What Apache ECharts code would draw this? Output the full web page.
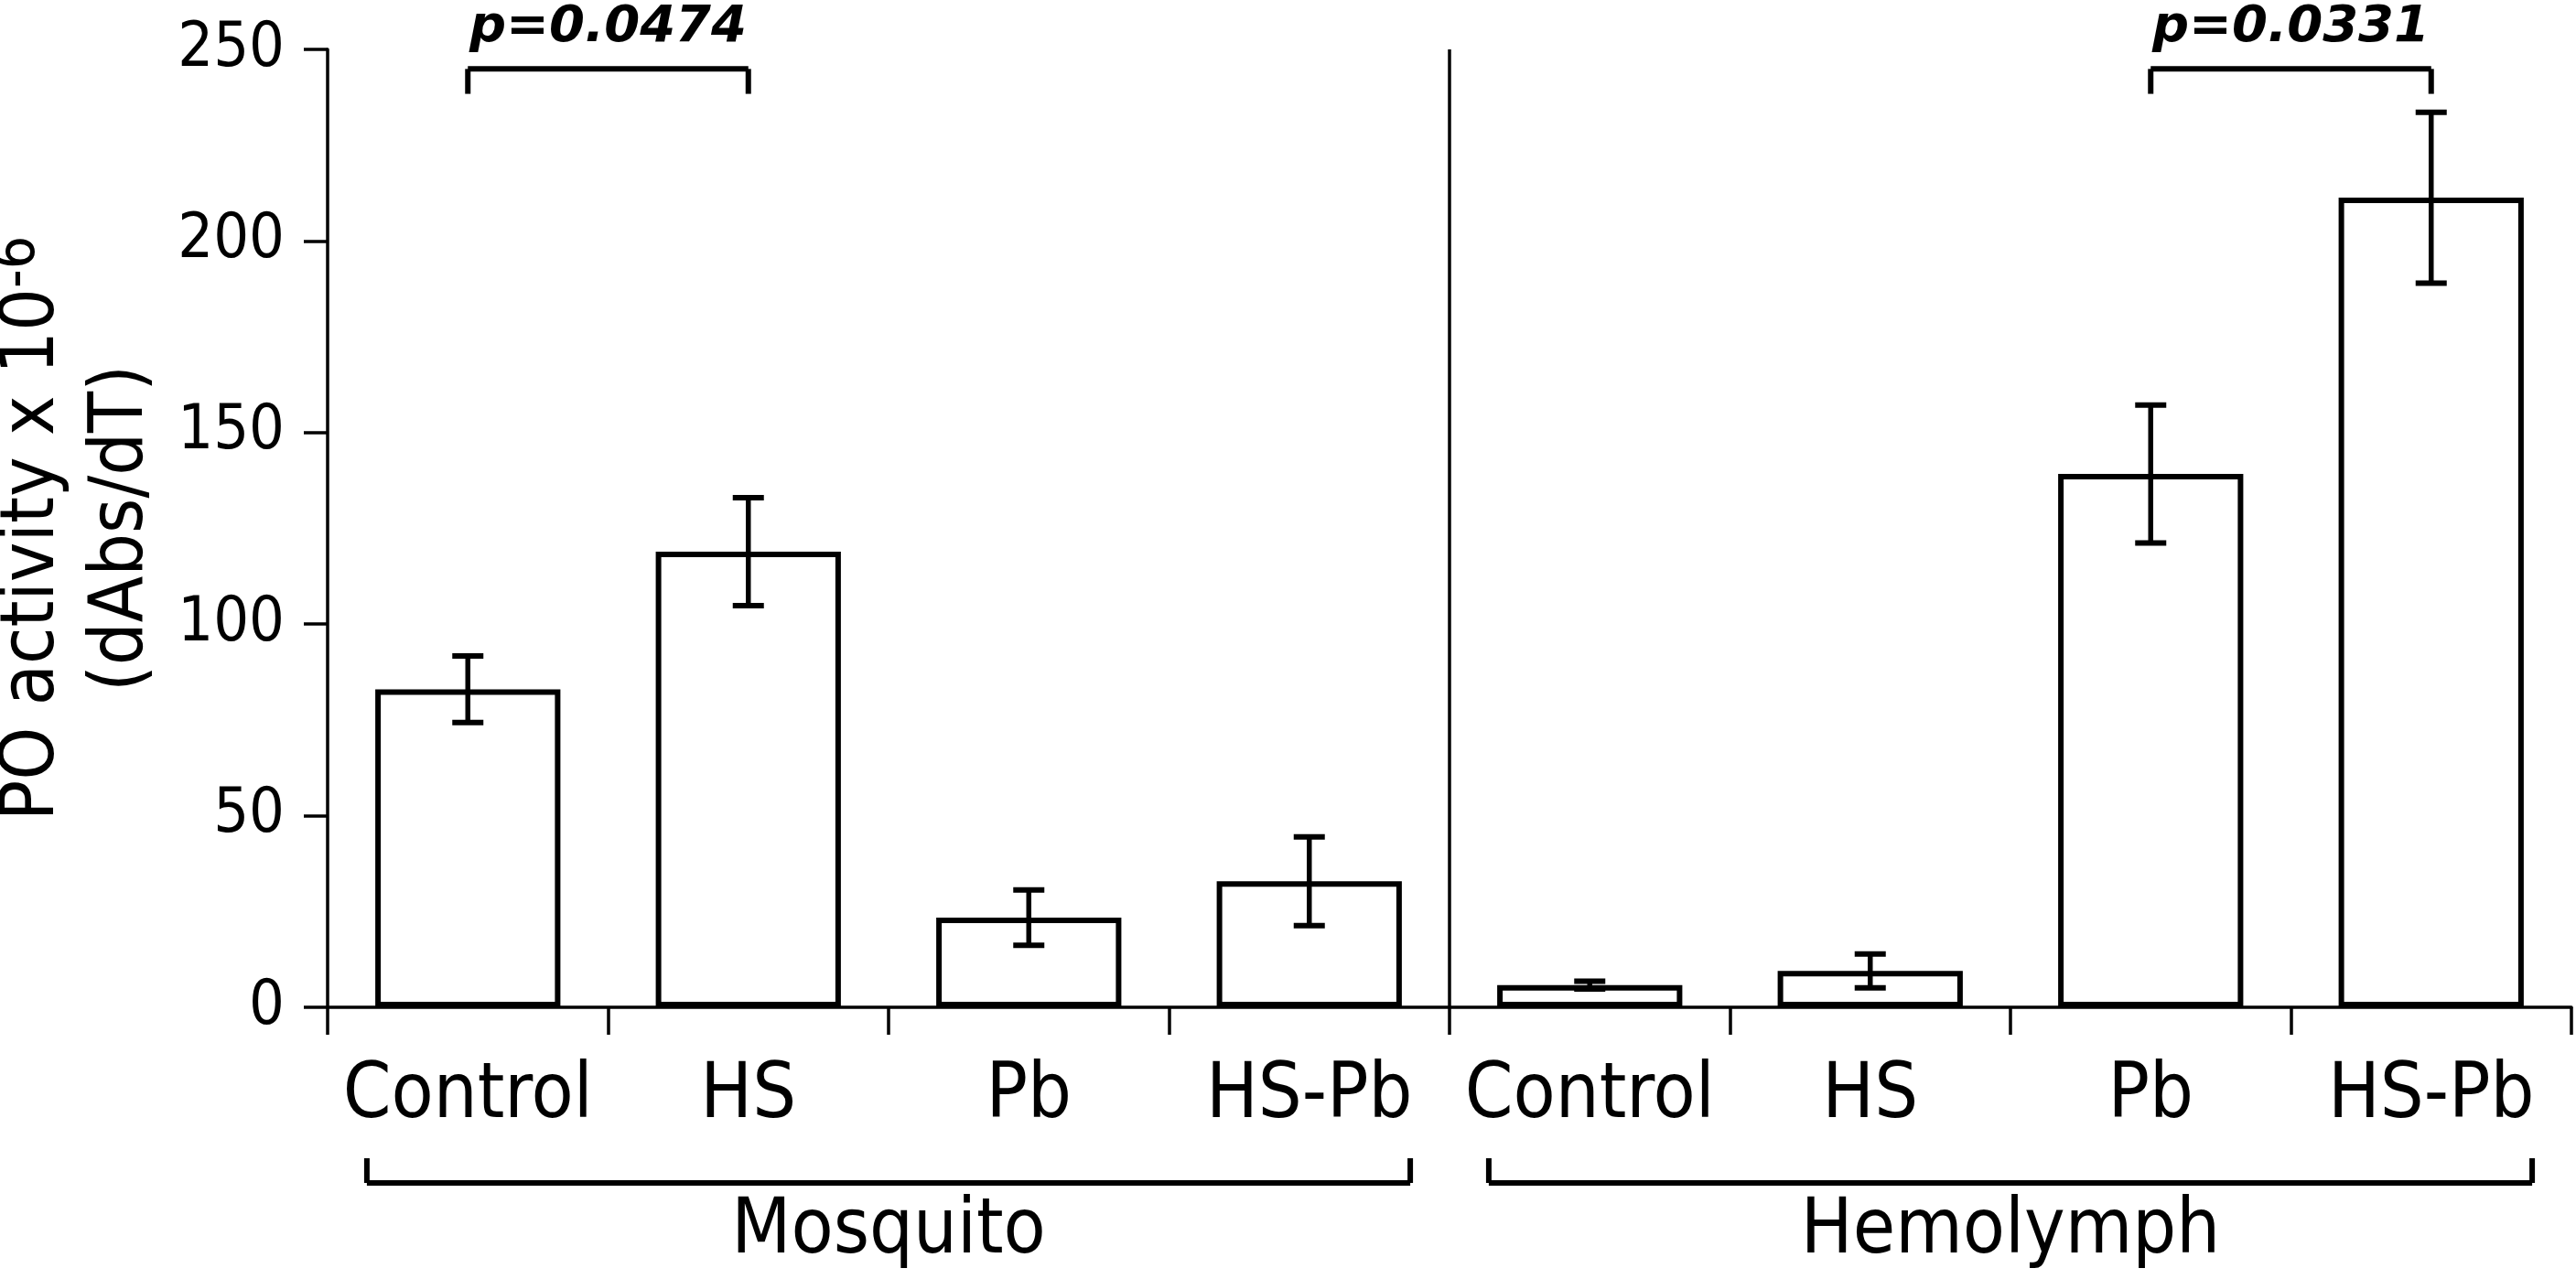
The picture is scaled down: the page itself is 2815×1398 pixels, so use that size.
<!DOCTYPE html>
<html>
<head>
<meta charset="utf-8">
<title>PO activity</title>
<script src="https://cdn.jsdelivr.net/npm/echarts@6.0.0/dist/echarts.min.js"></script>
<style>
  html, body { margin: 0; padding: 0; background: #fff; }
  #main { width: 2815px; height: 1398px; }
</style>
</head>
<body>
<div id="main"></div>
<script type="text/javascript">
// bar data
var categories = ['Control', 'HS', 'Pb', 'HS-Pb', 'Control', 'HS', 'Pb', 'HS-Pb'];
var means = [83.0, 118.9, 23.4, 32.9, 5.8, 9.5, 139.2, 211.3];
var errors = [8.7, 14.1, 7.2, 11.6, 1.0, 4.4, 18.0, 22.3];

// y axis ticks: 0 .. 250 step 50
var yMin = 0, yMax = 250, yStep = 50;

// groups under the axis
var groupNames = ['Mosquito', 'Hemolymph'];
var groupFirst = [0, 4];
var groupLast = [3, 7];

// significance brackets
var pLeft = [0, 6];
var pRight = [1, 7];
var pLabels = ['p=0.0474', 'p=0.0331'];

var FONT = "'DejaVu Sans Condensed', 'DejaVu Sans', sans-serif";

var errData = [];
for (var i = 0; i < means.length; i++) {
  errData.push([i, means[i] - errors[i], means[i] + errors[i]]);
}

function line(x1, y1, x2, y2, w) {
  return {
    type: 'line',
    shape: { x1: x1, y1: y1, x2: x2, y2: y2 },
    style: { stroke: '#000', lineWidth: w }
  };
}

function renderError(params, api) {
  var x = api.value(0);
  var lo = api.coord([x, api.value(1)]);
  var hi = api.coord([x, api.value(2)]);
  var cap = 17;
  return {
    type: 'group',
    children: [
      line(lo[0], lo[1], hi[0], hi[1], 5.5),
      line(hi[0] - cap, hi[1], hi[0] + cap, hi[1], 6),
      line(lo[0] - cap, lo[1], lo[0] + cap, lo[1], 6)
    ]
  };
}

function renderDecor(params, api) {
  var kids = [];
  var base = api.coord([0, 0])[1];
  var catW = api.size([1, 0])[0];

  // divider between the two groups
  var xs = (api.coord([3, 0])[0] + api.coord([4, 0])[0]) / 2;
  kids.push(line(xs, base, xs, api.coord([3, yMax])[1], 3.5));

  // p-value brackets
  for (var k = 0; k < pLeft.length; k++) {
    var a = api.coord([pLeft[k], 244.9]);
    var b = api.coord([pRight[k], 244.9]);
    var legY = api.coord([pLeft[k], 238.4])[1];
    kids.push(line(a[0], legY, a[0], a[1], 6));
    kids.push(line(a[0], a[1], b[0], b[1], 6));
    kids.push(line(b[0], a[1], b[0], legY, 6));
    kids.push({
      type: 'text',
      x: (a[0] + b[0]) / 2,
      y: api.coord([pLeft[k], 255.6])[1],
      style: {
        text: pLabels[k],
        fontSize: 56,
        fontWeight: 'bold',
        fontStyle: 'italic',
        fontFamily: "'DejaVu Sans', sans-serif",
        fill: '#000',
        align: 'center',
        verticalAlign: 'middle'
      }
    });
  }

  // group brackets and names under the category labels
  for (var g = 0; g < groupNames.length; g++) {
    var l = api.coord([groupFirst[g], 0])[0] - catW * 0.36;
    var r = api.coord([groupLast[g], 0])[0] + catW * 0.36;
    var hy = base + 192, ty = base + 165;
    kids.push(line(l, ty, l, hy, 6));
    kids.push(line(l, hy, r, hy, 6));
    kids.push(line(r, hy, r, ty, 6));
    kids.push({
      type: 'text',
      x: (api.coord([groupFirst[g], 0])[0] + api.coord([groupLast[g], 0])[0]) / 2,
      y: base + 246,
      style: {
        text: groupNames[g],
        fontSize: 84,
        fontFamily: FONT,
        fill: '#000',
        align: 'center',
        verticalAlign: 'middle'
      }
    });
  }
  return { type: 'group', children: kids };
}

var myChart = echarts.init(document.getElementById('main'));
var option = {
  backgroundColor: '#fff',
  animation: false,
  grid: {
    left: 358,
    top: 54,
    width: 2452,
    height: 1047,
    outerBoundsMode: 'none'
  },
  xAxis: {
    type: 'category',
    data: categories,
    axisLine: { show: true, lineStyle: { color: '#000', width: 3.5 } },
    axisTick: { show: true, length: 30, lineStyle: { color: '#000', width: 3.5 } },
    axisLabel: { interval: 0, fontSize: 84, fontFamily: FONT, color: '#000', margin: 56 },
    splitLine: { show: false }
  },
  yAxis: {
    type: 'value',
    min: yMin,
    max: yMax,
    interval: yStep,
    name: 'PO activity x 10{sup|-6}\n(dAbs/dT)',
    nameLocation: 'middle',
    nameRotate: 90,
    nameGap: 176,
    nameTextStyle: {
      fontSize: 82, lineHeight: 97, fontFamily: FONT, color: '#000',
      rich: {
        sup: { fontSize: 64, lineHeight: 97, verticalAlign: 'top', fontFamily: FONT, color: '#000' }
      }
    },
    axisLine: { show: true, lineStyle: { color: '#000', width: 3.5 } },
    axisTick: { show: true, length: 26, lineStyle: { color: '#000', width: 3.5 } },
    axisLabel: { fontSize: 68, fontFamily: FONT, color: '#000', margin: 47 },
    splitLine: { show: false }
  },
  series: [
    {
      type: 'bar',
      data: means,
      barCategoryGap: '34%',
      itemStyle: { color: '#fff', borderColor: '#000', borderWidth: 6 },
      z: 2
    },
    {
      type: 'custom',
      data: errData,
      renderItem: renderError,
      z: 3
    },
    {
      type: 'custom',
      data: [[0, 0]],
      renderItem: renderDecor,
      z: 4
    }
  ]
};
myChart.setOption(option);
</script>
</body>
</html>
